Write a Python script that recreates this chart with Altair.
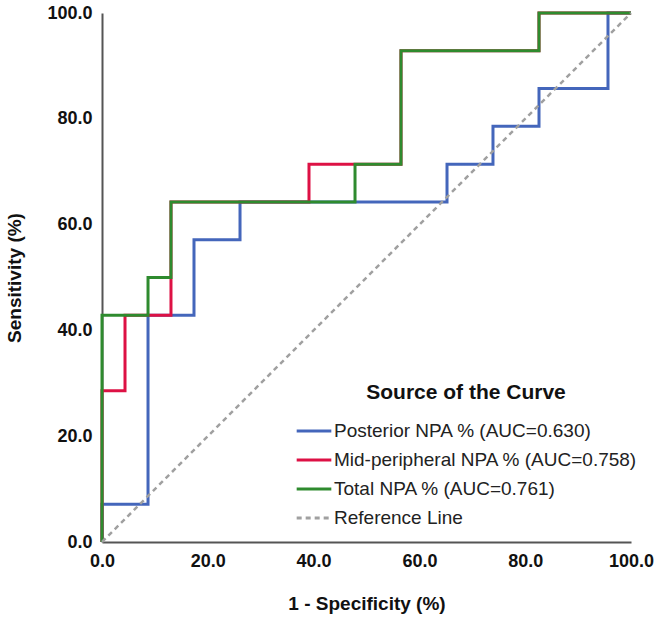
import altair as alt
import pandas as pd

# ROC operating points (1 - specificity, sensitivity), in percent
posterior_fpr = [0.0, 0.0, 8.70, 17.39, 26.09, 65.22, 73.91, 82.61, 95.65, 100.0]
posterior_tpr = [0.0, 7.14, 42.86, 57.14, 64.29, 71.43, 78.57, 85.71, 100.0, 100.0]

midper_fpr = [0.0, 0.0, 4.35, 13.04, 39.13, 56.52, 82.61, 100.0]
midper_tpr = [0.0, 28.57, 42.86, 64.29, 71.43, 92.86, 100.0, 100.0]

total_fpr = [0.0, 0.0, 8.70, 13.04, 47.83, 56.52, 82.61, 100.0]
total_tpr = [0.0, 42.86, 50.00, 64.29, 71.43, 92.86, 100.0, 100.0]

ref_fpr = [0.0, 100.0]
ref_tpr = [0.0, 100.0]

series_names = [
    "Posterior NPA % (AUC=0.630)",
    "Mid-peripheral NPA % (AUC=0.758)",
    "Total NPA % (AUC=0.761)",
    "Reference Line",
]
series_colors = ["#4466bb", "#dd1144", "#2e8b2e", "#a0a0a0"]
series_dash = [[1, 0], [1, 0], [1, 0], [5, 4]]

tick_values = [0, 20, 40, 60, 80, 100]

rows = []
for name, xs, ys in zip(
    series_names,
    [posterior_fpr, midper_fpr, total_fpr, ref_fpr],
    [posterior_tpr, midper_tpr, total_tpr, ref_tpr],
):
    for i, (x, y) in enumerate(zip(xs, ys)):
        rows.append({"series": name, "fpr": x, "tpr": y, "idx": i})
df = pd.DataFrame(rows)

color = alt.Color(
    "series:N",
    scale=alt.Scale(domain=series_names, range=series_colors),
    legend=alt.Legend(
        title="Source of the Curve",
        orient="none",
        legendX=193,
        legendY=369,
        symbolType="stroke",
        symbolSize=1200,
        symbolStrokeWidth=3,
        labelFontSize=19,
        labelFont="Liberation Sans",
        labelColor="#222222",
        labelOffset=1,
        labelLimit=0,
        titleFontSize=21,
        titleFont="Liberation Sans",
        titleFontWeight="bold",
        titleColor="#111111",
        titleAnchor="middle",
        titlePadding=9,
        titleLimit=0,
        rowPadding=0,
        padding=0,
    ),
)
dash = alt.StrokeDash(
    "series:N",
    scale=alt.Scale(domain=series_names, range=series_dash),
    legend=alt.Legend(title="Source of the Curve"),
)

x_enc = alt.X(
    "fpr:Q",
    title="1 - Specificity (%)",
    scale=alt.Scale(domain=[0, 100], nice=False),
    axis=alt.Axis(
        values=tick_values,
        format=".1f",
        labelFlush=False,
        ticks=False,
        grid=False,
        labelPadding=10,
        titlePadding=24,
    ),
)
y_enc = alt.Y(
    "tpr:Q",
    title="Sensitivity (%)",
    scale=alt.Scale(domain=[0, 100], nice=False),
    axis=alt.Axis(
        values=tick_values,
        format=".1f",
        labelFlush=False,
        ticks=False,
        grid=False,
        labelPadding=10,
        titlePadding=22,
    ),
)

layers = []
for name in series_names:
    is_ref = name == "Reference Line"
    layers.append(
        alt.Chart(df)
        .transform_filter(alt.datum.series == name)
        .mark_line(
            strokeWidth=2.5 if is_ref else 3,
            interpolate="linear" if is_ref else "step-after",
            strokeCap="butt",
            strokeJoin="miter",
        )
        .encode(x=x_enc, y=y_enc, color=color, strokeDash=dash, order="idx:Q")
    )

chart = (
    alt.layer(*layers)
    .properties(
        width=529,
        height=529,
        autosize=alt.AutoSizeParams(type="none"),
        padding={"left": 102, "top": 13, "right": 29, "bottom": 80},
        background="white",
    )
    .configure_view(stroke=None)
    .configure_axis(
        domainColor="#555555",
        domainWidth=2,
        labelFont="Liberation Sans",
        labelFontSize=18,
        labelFontWeight="bold",
        labelColor="#111111",
        titleFont="Liberation Sans",
        titleFontSize=19,
        titleFontWeight="bold",
        titleColor="#111111",
    )
)

chart.save("out.html", embed_options={"renderer": "svg", "actions": False})
